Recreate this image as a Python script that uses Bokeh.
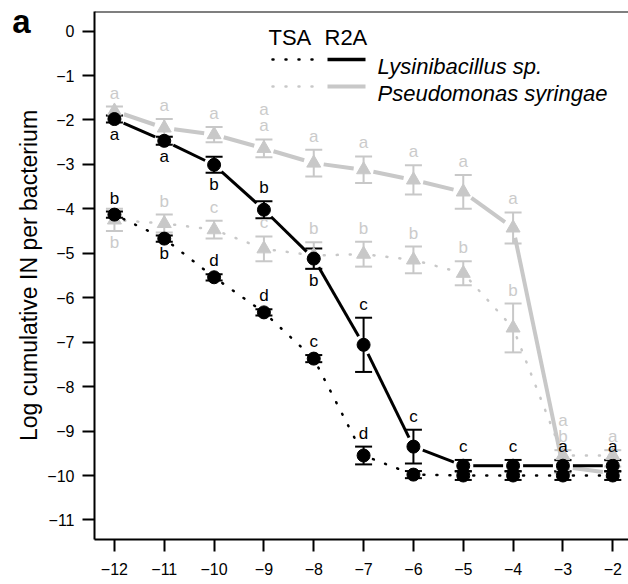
import math
from bokeh.plotting import figure
from bokeh.models import (Range1d, FixedTicker, Span, Label, Whisker, TeeHead,
                          ColumnDataSource, CustomJSTickFormatter, LinearAxis)
from bokeh.core.properties import value
from bokeh.embed import file_html
from bokeh.resources import INLINE

# ---------------- data ----------------
dilution = [-12, -11, -10, -9, -8, -7, -6, -5, -4, -3, -2]

lys_r2a = [-1.98, -2.47, -3.01, -4.02, -5.12, -7.06, -9.35, -9.78, -9.78, -9.78, -9.78]
lys_r2a_se = [0.08, 0.09, 0.18, 0.19, 0.23, 0.61, 0.38, 0.13, 0.13, 0.13, 0.13]
lys_r2a_letters = ["a", "a", "b", "b", "b", "c", "c", "c", "c", "a", "a"]
lys_r2a_side = ["below", "below", "below", "above", "below", "above", "above", "above", "above", "above", "above"]

lys_tsa = [-4.13, -4.67, -5.54, -6.33, -7.37, -9.55, -9.98, -10.0, -10.0, -10.0, -10.0]
lys_tsa_se = [0.07, 0.07, 0.07, 0.07, 0.08, 0.2, 0.08, 0.1, 0.1, 0.1, 0.1]
lys_tsa_letters = ["b", "b", "d", "d", "c", "d", "", "", "", "", ""]
lys_tsa_side = ["above", "below", "above", "above", "above", "above", "below", "below", "below", "below", "below"]

pse_r2a = [-1.8, -2.18, -2.33, -2.64, -2.97, -3.12, -3.35, -3.62, -4.43, -9.8, -9.95]
pse_r2a_se = [0.1, 0.2, 0.17, 0.2, 0.3, 0.3, 0.33, 0.38, 0.35, 0.15, 0.15]
pse_r2a_letters = ["a", "a", "a", "a\na", "a", "a", "a", "a", "a", "a", "a"]

pse_tsa = [-4.25, -4.33, -4.47, -4.9, -5.05, -5.02, -5.15, -5.45, -6.68, -9.55, -9.55]
pse_tsa_se = [0.25, 0.2, 0.2, 0.28, 0.3, 0.28, 0.3, 0.27, 0.55, 0.12, 0.12]
pse_tsa_letters = ["b", "b", "c", "c", "b", "b", "b", "b", "b", "a\nb", "a"]
pse_tsa_side = ["below", "above", "above", "above", "above", "above", "above", "above", "above", "above", "above"]

x_ticks = [-12, -11, -10, -9, -8, -7, -6, -5, -4, -3, -2]
x_tick_labels = ["\u221212", "\u221211", "\u221210", "\u22129", "\u22128", "\u22127",
                 "\u22126", "\u22125", "\u22124", "\u22123", "\u22122"]
y_ticks = [0, -1, -2, -3, -4, -5, -6, -7, -8, -9, -10, -11]
y_tick_labels = ["0", "\u22121", "\u22122", "\u22123", "\u22124", "\u22125", "\u22126",
                 "\u22127", "\u22128", "\u22129", "\u221210", "\u221211"]

y_label = "Log cumulative IN per bacterium"
legend_headers = ["TSA", "R2A"]
legend_names = ["Lysinibacillus sp.", "Pseudomonas syringae"]
panel_letter = "a"

# ---------------- geometry ----------------
X0, X1 = -12.4, -1.684
Y0, Y1 = -11.44, 0.44
FW, FH = 534, 528
FL, FT = 94, 11
SX = FW / (X1 - X0)
SY = FH / (Y1 - Y0)


def px_x(px):
    return X0 + (px - FL) / SX


def px_y(py):
    return Y1 - (py - FT) / SY


BLACK = "#000000"
GREY = "#c8c8c8"
GREY_TXT = "#cbcbcb"
FONT = "Liberation Sans"

p = figure(frame_width=FW, frame_height=FH, min_border_left=FL, min_border_right=0,
           min_border_top=FT, min_border_bottom=584 - FT - FH,
           x_range=Range1d(X0, X1), y_range=Range1d(Y0, Y1),
           output_backend="svg", toolbar_location=None)
p.outline_line_color = None
p.background_fill_color = "white"
p.border_fill_color = "white"
p.xgrid.visible = False
p.ygrid.visible = False

fmt_code = """
const i = tv.indexOf(Math.round(tick));
return i >= 0 ? tl[i] : String(tick);
"""
for ax, ticks, labels in ((p.xaxis[0], x_ticks, x_tick_labels), (p.yaxis[0], y_ticks, y_tick_labels)):
    ax.ticker = FixedTicker(ticks=ticks)
    ax.formatter = CustomJSTickFormatter(args=dict(tv=ticks, tl=labels), code=fmt_code)
    ax.axis_line_width = 2
    ax.axis_line_color = BLACK
    ax.major_tick_line_width = 2
    ax.major_tick_line_color = BLACK
    ax.major_tick_out = 12
    ax.major_tick_in = 0
    ax.minor_tick_line_color = None
    ax.major_label_text_font = FONT
    ax.major_label_text_font_size = "16px"
    ax.major_label_text_color = BLACK

p.xaxis.major_label_standoff = 11
p.yaxis.major_label_standoff = 8
p.yaxis.axis_label = y_label
p.yaxis.axis_label_text_font = FONT
p.yaxis.axis_label_text_font_size = "23px"
p.yaxis.axis_label_text_font_style = "normal"
p.yaxis.axis_label_text_color = BLACK
p.yaxis.axis_label_standoff = 2

# panel letter: a tick-less second left axis whose only label is the letter
panel_axis = LinearAxis(ticker=FixedTicker(ticks=[px_y(21)]),
                        formatter=CustomJSTickFormatter(args=dict(t=panel_letter), code="return t;"),
                        axis_line_color=None, major_tick_line_color=None,
                        minor_tick_line_color=None, major_tick_out=0, major_tick_in=0,
                        major_label_standoff=-17, major_label_text_font=FONT,
                        major_label_text_font_size="33px", major_label_text_font_style="bold",
                        major_label_text_color=BLACK)
p.add_layout(panel_axis, "left")

p.add_layout(Span(location=Y1, dimension="width", line_color=BLACK, line_width=2))


def gapped(xs, ys, gap=10.0):
    a, b, c, d = [], [], [], []
    for i in range(len(xs) - 1):
        dx = xs[i + 1] - xs[i]
        dy = ys[i + 1] - ys[i]
        L = math.hypot(dx * SX, dy * SY)
        if L <= 2 * gap:
            continue
        f = gap / L
        a.append(xs[i] + dx * f)
        b.append(ys[i] + dy * f)
        c.append(xs[i + 1] - dx * f)
        d.append(ys[i + 1] - dy * f)
    return a, b, c, d


def series(ys, se, color, lw, dotted, marker, msize, bar_color):
    a, b, c, d = gapped(dilution, ys)
    kw = dict(line_color=color, line_width=lw)
    if dotted:
        kw.update(line_dash="1 12", line_cap="round")
    p.segment(a, b, c, d, **kw)
    src = ColumnDataSource(dict(x=dilution, lo=[v - s for v, s in zip(ys, se)],
                                hi=[v + s for v, s in zip(ys, se)]))
    w = Whisker(source=src, base="x", lower="lo", upper="hi", line_color=bar_color, line_width=2,
                upper_head=TeeHead(size=17, line_color=bar_color, line_width=2),
                lower_head=TeeHead(size=17, line_color=bar_color, line_width=2))
    p.add_layout(w)
    p.scatter(dilution, ys, marker=marker, size=msize, fill_color=color, line_color=color)


def letters(ys, se, texts, sides, color):
    for side in ("above", "below"):
        xs, yy, tt = [], [], []
        for x, v, s, t, sd in zip(dilution, ys, se, texts, sides):
            if sd == side and t:
                xs.append(x)
                yy.append(v + s if side == "above" else v - s)
                tt.append(t)
        if not xs:
            continue
        p.text(xs, yy, text=tt, text_align="center",
               text_baseline="bottom" if side == "above" else "top",
               y_offset=-4 if side == "above" else 2,
               text_font=value(FONT), text_font_size="17px", text_color=color,
               text_line_height=0.85)


series(pse_r2a, pse_r2a_se, GREY, 4, False, "triangle", 14, GREY)
series(pse_tsa, pse_tsa_se, GREY, 2.5, True, "triangle", 14, GREY)
series(lys_tsa, lys_tsa_se, BLACK, 2.5, True, "circle", 13, BLACK)
series(lys_r2a, lys_r2a_se, BLACK, 3, False, "circle", 13, BLACK)

letters(pse_r2a, pse_r2a_se, pse_r2a_letters, ["above"] * len(dilution), GREY_TXT)
letters(pse_tsa, pse_tsa_se, pse_tsa_letters, pse_tsa_side, GREY_TXT)
letters(lys_tsa, lys_tsa_se, lys_tsa_letters, lys_tsa_side, BLACK)
letters(lys_r2a, lys_r2a_se, lys_r2a_letters, lys_r2a_side, BLACK)

# ---------------- legend ----------------
p.add_layout(Label(x=px_x(268), y=px_y(37), text=legend_headers[0], text_font=FONT,
                   text_font_size="22px", text_baseline="alphabetic", text_color=BLACK))
p.add_layout(Label(x=px_x(324), y=px_y(37), text=legend_headers[1], text_font=FONT,
                   text_font_size="22px", text_baseline="alphabetic", text_color=BLACK))
for row_y, col, lw_solid, name in ((59, BLACK, 3.5, legend_names[0]), (86, GREY, 4, legend_names[1])):
    p.segment([px_x(272)], [px_y(row_y)], [px_x(313)], [px_y(row_y)], line_color=col,
              line_width=2.5, line_dash="1 12", line_cap="round")
    p.segment([px_x(327)], [px_y(row_y)], [px_x(365)], [px_y(row_y)], line_color=col,
              line_width=lw_solid)
    p.add_layout(Label(x=px_x(377), y=px_y(row_y + 7), text=name, text_font=FONT,
                       text_font_size="22px", text_font_style="italic",
                       text_baseline="alphabetic", text_color=BLACK))

open("out.html", "w").write(file_html(p, INLINE))
